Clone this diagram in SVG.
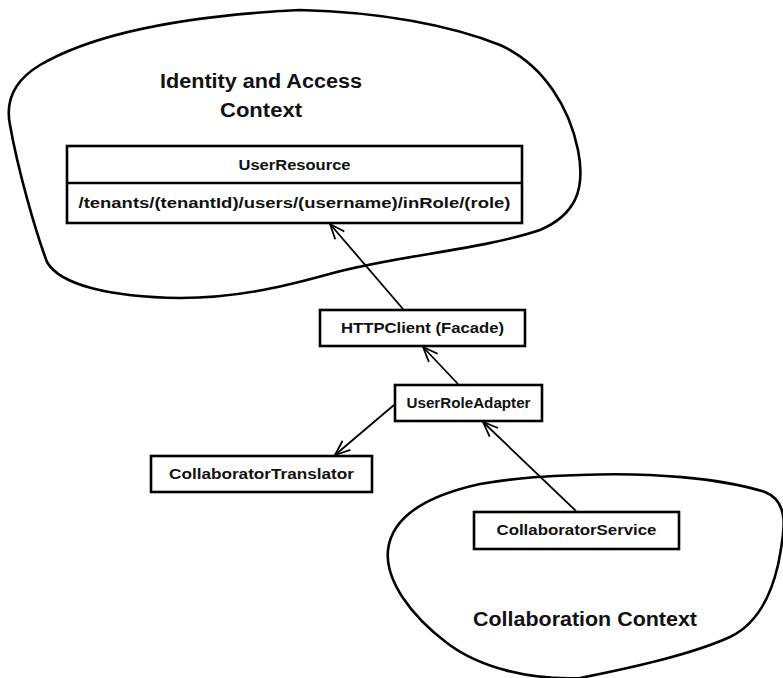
<svg xmlns="http://www.w3.org/2000/svg" width="783" height="678" viewBox="0 0 783 678">
<style>
.blob{fill:none;stroke:#000;stroke-width:2.6;stroke-linejoin:round}
.box{fill:#fff;stroke:#000;stroke-width:2.6}
.t{font-family:"Liberation Sans",Arial,sans-serif;font-weight:bold;fill:#111;text-anchor:middle}
.n{font-size:14.5px}
.ctx{font-size:19.5px}
.conn{fill:none;stroke:#000;stroke-width:1.8}
</style>
<defs>
<marker id="open" markerUnits="userSpaceOnUse" markerWidth="20" markerHeight="16" refX="0" refY="0" viewBox="-17 -8 19 16" orient="auto">
<path d="M -15 -6 L 0 0 L -15 6" fill="none" stroke="#000" stroke-width="1.8"/>
</marker>
</defs>
<rect width="783" height="678" fill="#fff"/>
<g id="identity-context">
<path class="blob" d="M 300 10 C 380 12, 450 25, 500 45 C 545 65, 570 110, 578 150 C 586 190, 575 215, 540 230 C 480 250, 400 255, 333 273 C 290 285, 240 298, 180 298 C 110 297, 60 285, 47 262 C 35 230, 18 170, 10 125 C 5 100, 15 80, 40 65 C 100 30, 200 15, 300 10 Z"/>
<text class="t ctx" x="261" y="88" textLength="202" lengthAdjust="spacingAndGlyphs">Identity and Access</text>
<text class="t ctx" x="261" y="117" textLength="82" lengthAdjust="spacingAndGlyphs">Context</text>
</g>
<g id="collaboration-context">
<path class="blob" d="M 580 475 C 650 472, 720 478, 765 492 C 790 502, 785 530, 778 565 C 770 600, 755 625, 730 637 C 690 655, 630 668, 580 678 C 530 680, 480 668, 447 643 C 410 615, 385 580, 388 550 C 392 515, 430 495, 480 484 C 520 477, 550 476, 580 475 Z"/>
<text class="t ctx" x="585" y="626" textLength="224" lengthAdjust="spacingAndGlyphs">Collaboration Context</text>
</g>
<g id="UserResource">
<rect class="box" x="67" y="146" width="455" height="77"/>
<line x1="67" y1="183" x2="522" y2="183" stroke="#000" stroke-width="2.6"/>
<text class="t n" x="294.5" y="170" textLength="112" lengthAdjust="spacingAndGlyphs">UserResource</text>
<text class="t n" x="294.5" y="208" textLength="432" lengthAdjust="spacingAndGlyphs">/tenants/(tenantId)/users/(username)/inRole/(role)</text>
</g>
<g id="HTTPClient">
<rect class="box" x="320" y="310" width="205" height="36"/>
<text class="t n" x="422.5" y="333" textLength="163" lengthAdjust="spacingAndGlyphs">HTTPClient (Facade)</text>
</g>
<g id="UserRoleAdapter">
<rect class="box" x="395" y="385" width="147" height="36"/>
<text class="t n" x="468.5" y="408" textLength="124" lengthAdjust="spacingAndGlyphs">UserRoleAdapter</text>
</g>
<g id="CollaboratorTranslator">
<rect class="box" x="151" y="456" width="221" height="36"/>
<text class="t n" x="261.5" y="479" textLength="185" lengthAdjust="spacingAndGlyphs">CollaboratorTranslator</text>
</g>
<g id="CollaboratorService">
<rect class="box" x="474" y="512" width="205" height="37"/>
<text class="t n" x="576.5" y="535" textLength="160" lengthAdjust="spacingAndGlyphs">CollaboratorService</text>
</g>
<g id="connectors">
<line class="conn" x1="403" y1="309" x2="330" y2="224" marker-end="url(#open)"/>
<line class="conn" x1="458" y1="384" x2="423" y2="347" marker-end="url(#open)"/>
<line class="conn" x1="394" y1="405" x2="335" y2="455" marker-end="url(#open)"/>
<line class="conn" x1="576" y1="511" x2="483" y2="422" marker-end="url(#open)"/>
</g>
</svg>
